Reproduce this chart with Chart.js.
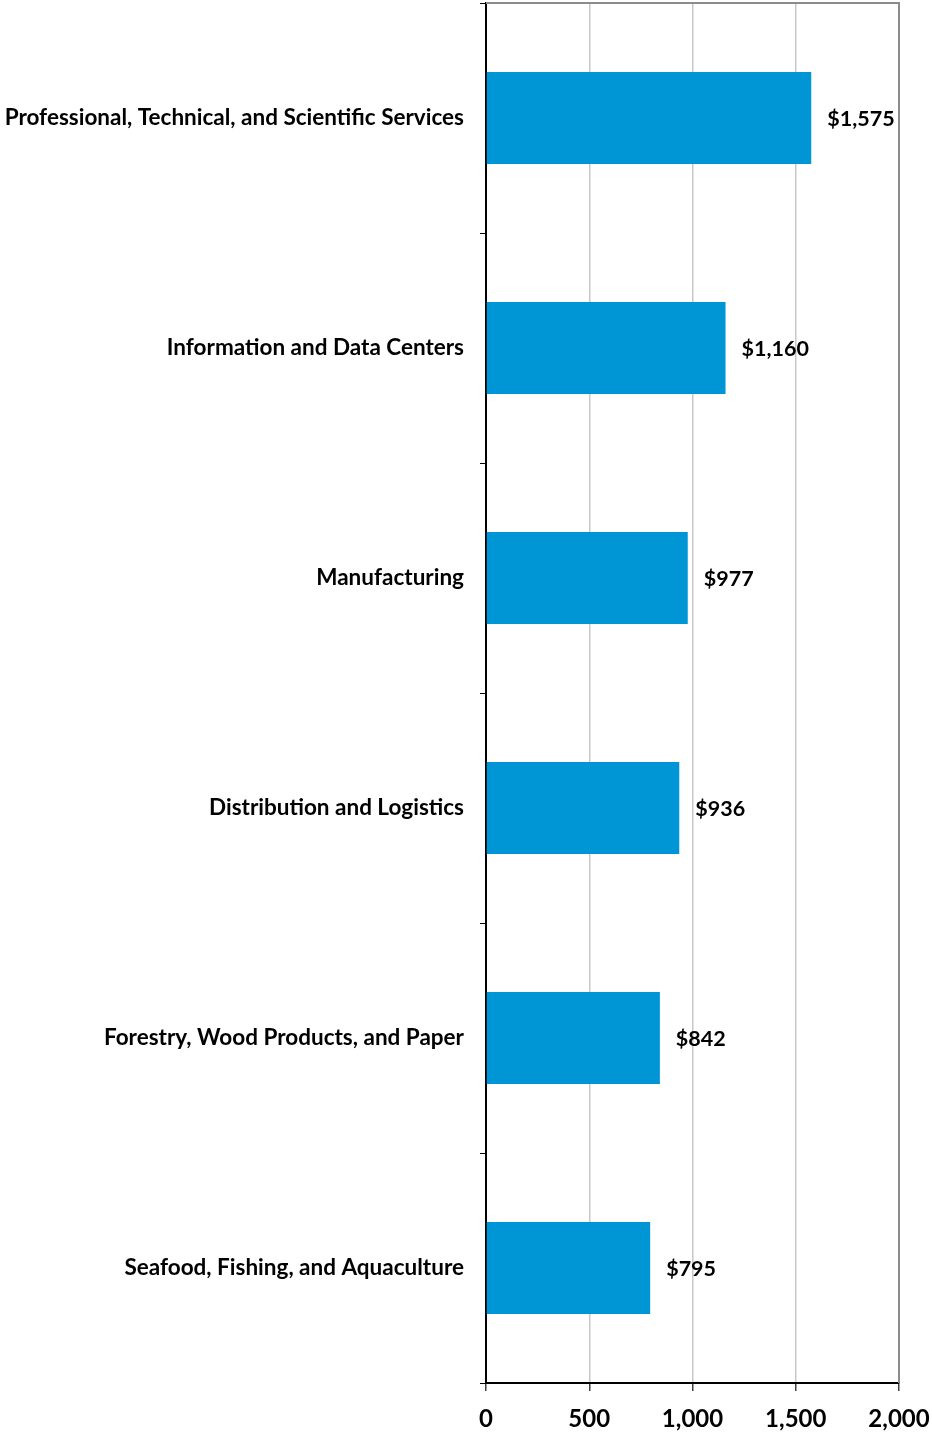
<!DOCTYPE html>
<html>
<head>
<meta charset="utf-8">
<script src="https://cdn.jsdelivr.net/npm/chart.js@4"></script>
<style>
  html, body { margin: 0; padding: 0; background: #fff; }
  #wrap { width: 932px; height: 1437px; position: relative; }
</style>
</head>
<body>
<div id="wrap"><canvas id="wageChart"></canvas></div>
<script>
const sectors = [
    'Professional, Technical, and Scientific Services',
    'Information and Data Centers',
    'Manufacturing',
    'Distribution and Logistics',
    'Forestry, Wood Products, and Paper',
    'Seafood, Fishing, and Aquaculture'
];
const weeklyWages = [1575, 1160, 977, 936, 842, 795];
const axisTicks = [0, 500, 1000, 1500, 2000];

const LABEL_FONT = 'Lato, "Open Sans", sans-serif';

// etichette "$1,575" a destra di ogni barra
const valueLabels = {
    id: 'valueLabels',
    afterDatasetsDraw(chart) {
        const ctx = chart.ctx;
        const meta = chart.getDatasetMeta(0);
        ctx.save();
        ctx.font = `bold 21.5px ${LABEL_FONT}`;
        ctx.fillStyle = '#000';
        ctx.textAlign = 'left';
        ctx.textBaseline = 'middle';
        meta.data.forEach((bar, i) => {
            const txt = '$' + weeklyWages[i].toLocaleString('en-US');
            ctx.fillText(txt, bar.x + 16, bar.y + 1);
        });
        ctx.restore();
    }
};

// bordo grigio sopra e a destra dell'area del grafico
const plotFrame = {
    id: 'plotFrame',
    beforeDatasetsDraw(chart) {
        const { ctx, chartArea: a } = chart;
        ctx.save();
        ctx.strokeStyle = '#8c8c8c';
        ctx.lineWidth = 2;
        ctx.beginPath();
        ctx.moveTo(a.left, a.top);
        ctx.lineTo(a.right, a.top);
        ctx.lineTo(a.right, a.bottom);
        ctx.stroke();
        ctx.restore();
    }
};

new Chart(document.getElementById('wageChart'), {
    type: 'bar',
    data: {
        labels: sectors,
        datasets: [{
            data: weeklyWages,
            backgroundColor: '#0096d6',
            borderWidth: 0,
            categoryPercentage: 1,
            barPercentage: 0.4
        }]
    },
    options: {
        indexAxis: 'y',
        responsive: true,
        maintainAspectRatio: false,
        animation: false,
        layout: { padding: { top: 3, right: 33, left: 0, bottom: 0 } },
        plugins: {
            legend: { display: false },
            tooltip: { enabled: false }
        },
        scales: {
            x: {
                min: 0,
                max: 2000,
                afterBuildTicks(scale) {
                    scale.ticks = axisTicks.map(v => ({ value: v }));
                },
                afterFit(scale) {
                    scale.height = 54;
                    scale.paddingLeft = 0;
                    scale.paddingRight = 0;
                },
                grid: {
                    color: '#c8c8c8',
                    lineWidth: 1.5,
                    tickColor: '#404040',
                    tickLength: 8
                },
                border: { color: '#000', width: 2 },
                ticks: {
                    color: '#000',
                    padding: 14,
                    maxRotation: 0,
                    font: { family: LABEL_FONT, size: 24, weight: 'bold' },
                    callback: v => v.toLocaleString('en-US')
                }
            },
            y: {
                afterFit(scale) {
                    scale.width = 486;
                    scale.paddingTop = 0;
                    scale.paddingBottom = 0;
                },
                grid: {
                    offset: true,
                    drawOnChartArea: false,
                    tickColor: '#000',
                    tickLength: 6
                },
                border: { color: '#000', width: 2 },
                ticks: {
                    color: '#000',
                    padding: 16,
                    font: { family: LABEL_FONT, size: 22.5, weight: 'bold' }
                }
            }
        }
    },
    plugins: [plotFrame, valueLabels]
});
</script>
</body>
</html>
